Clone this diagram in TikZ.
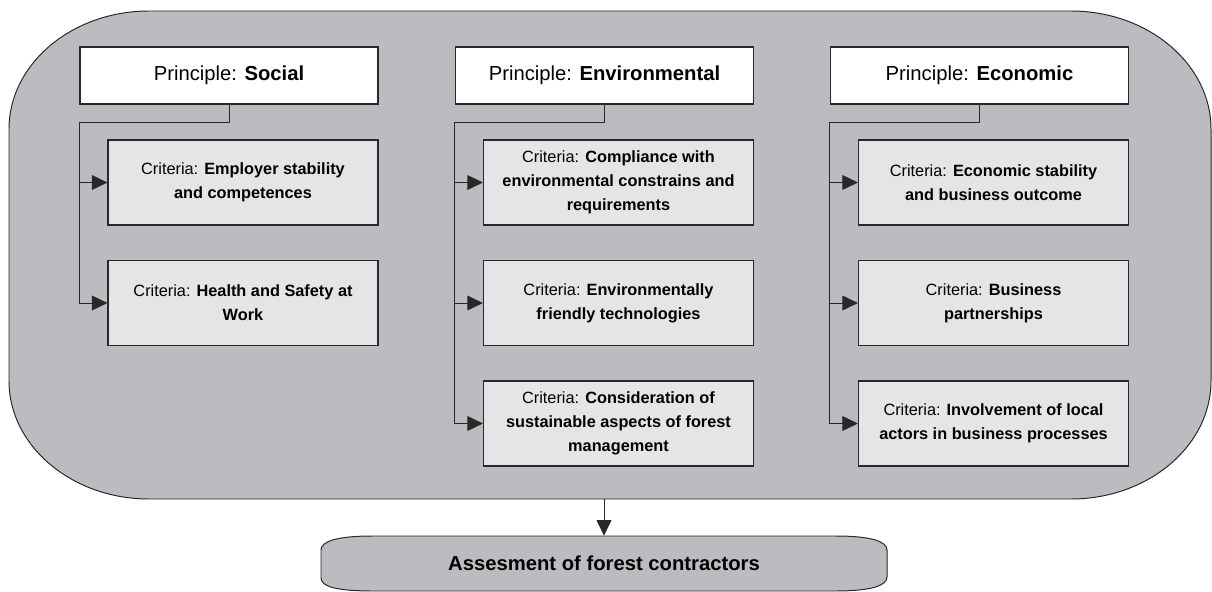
\documentclass[tikz,border=0pt]{standalone}
\usepackage{fontspec}
\setmainfont{Liberation Sans}
\usetikzlibrary{positioning, arrows.meta}

\definecolor{shapegray}{RGB}{187,188,191}
\definecolor{critgray}{RGB}{228,229,231}
\definecolor{linegray}{RGB}{40,40,40}

\tikzset{
    principle/.style={draw=linegray, line width=0.8pt, fill=white, minimum width=7.45cm, minimum height=1.425cm, inner sep=0pt, font=\fontsize{14.4}{17}\selectfont},
    criteria/.style={draw=linegray, line width=0.8pt, fill=critgray, minimum width=6.75cm, minimum height=2.125cm, inner sep=0pt, align=center, font=\fontsize{11.6}{17}\selectfont},
    link/.style={draw=linegray, line width=0.6pt},
    arr/.style={link, -{Triangle[length=11pt, width=10.5pt]}},
}

\begin{document}
\begin{tikzpicture}[x=0.025cm, y=-0.025cm]
                \useasboundingbox (0,0) rectangle (1212,592);

                \draw[draw=linegray, line width=0.7pt, fill=shapegray] (149,11) -- (1071,11) .. controls (1148,11) and (1211,64) .. (1211,129) -- (1211,381) .. controls (1211,446) and (1148,499) .. (1071,499) -- (149,499) .. controls (72,499) and (9,446) .. (9,381) -- (9,129) .. controls (9,64) and (72,11) .. (149,11) -- cycle;
                \coordinate (bot) at (604,499);

                \node[principle] (ps) at (229, 75.5) {Principle: \textbf{Social}};
                \node[principle] (pe) at (604.5, 75.5) {Principle: \textbf{Environmental}};
                \node[principle] (pc) at (979.5, 75.5) {Principle: \textbf{Economic}};

                \node[criteria] (cs1) at (243, 182.5) {Criteria: \textbf{Employer stability}\\ \textbf{and competences}};
                \node[criteria] (cs2) at (243, 303) {Criteria: \textbf{Health and Safety at}\\ \textbf{Work}};

                \node[criteria] (ce1) at (618.5, 182.5) {Criteria: \textbf{Compliance with}\\ \textbf{environmental constrains and}\\ \textbf{requirements}};
                \node[criteria] (ce2) at (618.5, 303) {Criteria: \textbf{Environmentally}\\ \textbf{friendly technologies}};
                \node[criteria] (ce3) at (618.5, 423.5) {Criteria: \textbf{Consideration of}\\ \textbf{sustainable aspects of forest}\\ \textbf{management}};

                \node[criteria] (cc1) at (993.5, 182.5) {Criteria: \textbf{Economic stability}\\ \textbf{and business outcome}};
                \node[criteria] (cc2) at (993.5, 303) {Criteria: \textbf{Business}\\ \textbf{partnerships}};
                \node[criteria] (cc3) at (993.5, 423.5) {Criteria: \textbf{Involvement of local}\\ \textbf{actors in business processes}};

                \draw[link] (ps.south) -- ++(0,18) -| (ps.south west |- cs2.west);
                \draw[arr] (ps.south west |- cs1.west) -- (cs1.west);
                \draw[arr] (ps.south west |- cs2.west) -- (cs2.west);

                \draw[link] (pe.south) -- ++(0,18) -| (pe.south west |- ce3.west);
                \draw[arr] (pe.south west |- ce1.west) -- (ce1.west);
                \draw[arr] (pe.south west |- ce2.west) -- (ce2.west);
                \draw[arr] (pe.south west |- ce3.west) -- (ce3.west);

                \draw[link] (pc.south) -- ++(0,18) -| (pc.south west |- cc3.west);
                \draw[arr] (pc.south west |- cc1.west) -- (cc1.west);
                \draw[arr] (pc.south west |- cc2.west) -- (cc2.west);
                \draw[arr] (pc.south west |- cc3.west) -- (cc3.west);

                \draw[draw=linegray, line width=0.7pt, fill=shapegray] (373,536) -- (835,536) .. controls (870,536) and (887,541) .. (887,550) -- (887,577) .. controls (887,586) and (870,591) .. (835,591) -- (373,591) .. controls (338,591) and (321,587) .. (321,578) -- (321,550) .. controls (321,541) and (338,536) .. (373,536) -- cycle;
                \node[minimum width=14.15cm, minimum height=1.375cm, inner sep=0pt, font=\fontsize{14.4}{17}\selectfont\bfseries] (assess) at (604, 563.5) {Assesment of forest contractors};

                \draw[arr] (bot) -- (assess.north);
            \end{tikzpicture}
\end{document}
